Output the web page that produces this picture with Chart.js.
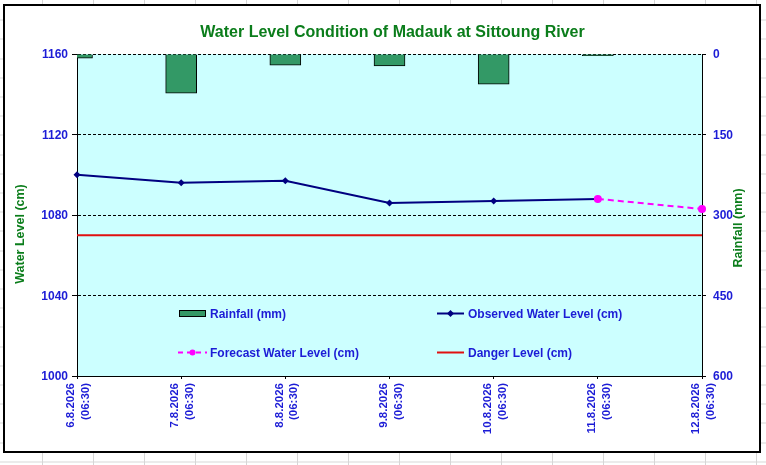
<!DOCTYPE html>
<html>
<head>
<meta charset="utf-8">
<script src="https://cdn.jsdelivr.net/npm/chart.js@4.4.1/dist/chart.umd.min.js"></script>
<style>
  html, body { margin: 0; padding: 0; }
  body {
    width: 766px; height: 465px; overflow: hidden; position: relative;
    background-color: #ffffff;
    background-image:
      repeating-linear-gradient(to right, transparent 0px, transparent 50px, #d6d6d6 50px, #d6d6d6 51px),
      repeating-linear-gradient(to bottom, transparent 0px, transparent 18.2px, #d6d6d6 18.2px, #d6d6d6 19.2px);
    background-position: -8px 0px, 0px 1.5px;
  }
  #box {
    position: absolute; left: 3px; top: 4px; width: 758px; height: 449px;
    border: 2px solid #000; box-sizing: border-box; background: #fff;
  }
  #c { display: block; }
</style>
</head>
<body>
<div id="box"><canvas id="c" width="754" height="445"></canvas></div>
<script>
// ---- data ----
const dates = ['6.8.2026', '7.8.2026', '8.8.2026', '9.8.2026', '10.8.2026', '11.8.2026', '12.8.2026'];
const timeLabel = '(06:30)';
const rainfall = [8, 73, 21, 22, 56, 3, 0];
const observedLevel = [1100, 1096, 1097, 1086, 1087, 1088, null];
const forecastLevel = [null, null, null, null, null, 1088, 1083];
const dangerLevel = [1070, 1070, 1070, 1070, 1070, 1070, 1070];
const levelTicks = [1000, 1040, 1080, 1120, 1160];
const rainTicks = [0, 150, 300, 450, 600];

const titleText = 'Water Level Condition of Madauk at Sittoung River';
const leftTitle = 'Water Level (cm)';
const rightTitle = 'Rainfall (mm)';

const BLUE = '#1c1cd6';
const GREEN = '#0b7d1b';
const FONT = '"Liberation Sans", Arial, sans-serif';

const labels = dates.map(d => [d, timeLabel]);

const decor = {
  id: 'decor',
  beforeDraw(chart) {
    const {ctx, chartArea: a} = chart;
    ctx.save();
    ctx.fillStyle = '#ccffff';
    ctx.fillRect(a.left, a.top, a.right - a.left, a.bottom - a.top);
    ctx.restore();
  },
  afterDatasetsDraw(chart) {
    const {ctx, chartArea: a} = chart;
    ctx.save();
    // title
    ctx.fillStyle = GREEN;
    ctx.font = 'bold 16px ' + FONT;
    ctx.textAlign = 'center';
    ctx.textBaseline = 'middle';
    ctx.fillText(titleText, (a.left + a.right) / 2 + 3, a.top - 21);
    // axis titles
    ctx.font = 'bold 12.5px ' + FONT;
    ctx.save();
    ctx.translate(16, 228);
    ctx.rotate(-Math.PI / 2);
    ctx.fillText(leftTitle, 0, 0);
    ctx.restore();
    ctx.save();
    ctx.translate(734, 222);
    ctx.rotate(-Math.PI / 2);
    ctx.fillText(rightTitle, 0, 0);
    ctx.restore();

    // legend
    const ds = chart.data.datasets;
    const L = a.left, T = a.top;
    const r1 = T + 259.5, r2 = T + 298.5;
    const c1 = L + 102, c2 = L + 360;
    ctx.font = 'bold 12px ' + FONT;
    ctx.textAlign = 'left';
    ctx.fillStyle = BLUE;
    // rainfall swatch
    const bar = ds[3];
    ctx.fillStyle = bar.backgroundColor;
    ctx.fillRect(c1, r1 - 3.5, 27, 7);
    ctx.strokeStyle = bar.borderColor;
    ctx.lineWidth = 1;
    ctx.strokeRect(c1 + 0.5, r1 - 3.5 + 0.5, 26, 6);
    ctx.fillStyle = BLUE;
    ctx.fillText(bar.label, c1 + 31, r1 + 1);
    // observed
    const obs = ds[0];
    ctx.strokeStyle = obs.borderColor;
    ctx.lineWidth = 2;
    ctx.beginPath(); ctx.moveTo(c2, r1); ctx.lineTo(c2 + 27, r1); ctx.stroke();
    ctx.fillStyle = obs.borderColor;
    ctx.beginPath();
    const dx = c2 + 13.5;
    ctx.moveTo(dx, r1 - 3.5); ctx.lineTo(dx + 3.5, r1); ctx.lineTo(dx, r1 + 3.5); ctx.lineTo(dx - 3.5, r1); ctx.closePath(); ctx.fill();
    ctx.fillStyle = BLUE;
    ctx.fillText(obs.label, c2 + 31, r1 + 1);
    // forecast
    const fc = ds[1];
    ctx.strokeStyle = fc.borderColor;
    ctx.lineWidth = 2;
    ctx.setLineDash([5, 4]);
    ctx.beginPath(); ctx.moveTo(c1 - 1, r2); ctx.lineTo(c1 + 28, r2); ctx.stroke();
    ctx.setLineDash([]);
    ctx.fillStyle = fc.borderColor;
    ctx.beginPath(); ctx.arc(c1 + 13.5, r2, 3, 0, Math.PI * 2); ctx.fill();
    ctx.fillStyle = BLUE;
    ctx.fillText(fc.label, c1 + 31, r2 + 1);
    // danger
    const dg = ds[2];
    ctx.strokeStyle = dg.borderColor;
    ctx.lineWidth = 2;
    ctx.beginPath(); ctx.moveTo(c2, r2); ctx.lineTo(c2 + 27, r2); ctx.stroke();
    ctx.fillStyle = BLUE;
    ctx.fillText(dg.label, c2 + 31, r2 + 1);
    ctx.restore();
  }
};

const tickFont = {family: FONT, size: 12, weight: 'bold'};
const xFont = {family: FONT, size: 11.5, weight: 'bold', lineHeight: 1.3};
const plain = v => String(v);

new Chart(document.getElementById('c'), {
  data: {
    labels: labels,
    datasets: [
      {
        type: 'line', label: 'Observed Water Level (cm)', data: observedLevel, yAxisID: 'y',
        borderColor: '#000080', backgroundColor: '#000080', borderWidth: 2,
        pointStyle: 'rectRot', pointRadius: 3.5, pointBackgroundColor: '#000080', pointBorderWidth: 0,
        tension: 0, spanGaps: false, order: 1
      },
      {
        type: 'line', label: 'Forecast Water Level (cm)', data: forecastLevel, yAxisID: 'y',
        borderColor: '#ff00ff', backgroundColor: '#ff00ff', borderWidth: 2, borderDash: [6, 4],
        pointStyle: 'circle', pointRadius: 4, pointBackgroundColor: '#ff00ff', pointBorderWidth: 0,
        tension: 0, order: 0
      },
      {
        type: 'line', label: 'Danger Level (cm)', data: dangerLevel, yAxisID: 'y',
        borderColor: '#e01010', borderWidth: 2, pointRadius: 0, tension: 0, order: 2
      },
      {
        type: 'bar', label: 'Rainfall (mm)', data: rainfall, yAxisID: 'y2',
        backgroundColor: '#339966', borderColor: '#000000', borderWidth: 1,
        barThickness: 31, order: 5
      }
    ]
  },
  options: {
    responsive: false,
    animation: false,
    events: [],
    layout: {padding: {top: 48, left: 0, right: 0, bottom: 0}},
    plugins: {legend: {display: false}, title: {display: false}, tooltip: {enabled: false}},
    scales: {
      x: {
        type: 'category', offset: false,
        grid: {offset: false, drawOnChartArea: false, drawTicks: true, tickLength: 3, color: '#000', tickColor: '#000'},
        border: {color: '#000', width: 1},
        ticks: {autoSkip: false, minRotation: 90, maxRotation: 90, color: BLUE, font: xFont, padding: 4, labelOffset: -6},
        afterFit(s) { s.height = 75; }
      },
      y: {
        position: 'left', min: 1000, max: 1160,
        afterBuildTicks(s) { s.ticks = levelTicks.map(v => ({value: v})); },
        grid: {color: '#000', tickColor: '#000', tickLength: 5, tickBorderDash: [], lineWidth: 1},
        border: {color: '#000', width: 1, dash: [3, 2]},
        ticks: {color: BLUE, font: tickFont, padding: 4, callback: plain, labelOffset: 1},
        afterFit(s) { s.width = 72; }
      },
      y2: {
        position: 'right', reverse: true, min: 0, max: 600,
        afterBuildTicks(s) { s.ticks = rainTicks.map(v => ({value: v})); },
        grid: {drawOnChartArea: false, color: '#000', tickColor: '#000', tickLength: 4},
        border: {color: '#000', width: 1},
        ticks: {color: BLUE, font: tickFont, padding: 7, callback: plain, labelOffset: 1},
        afterFit(s) { s.width = 57; }
      }
    }
  },
  plugins: [decor]
});
</script>
</body>
</html>
